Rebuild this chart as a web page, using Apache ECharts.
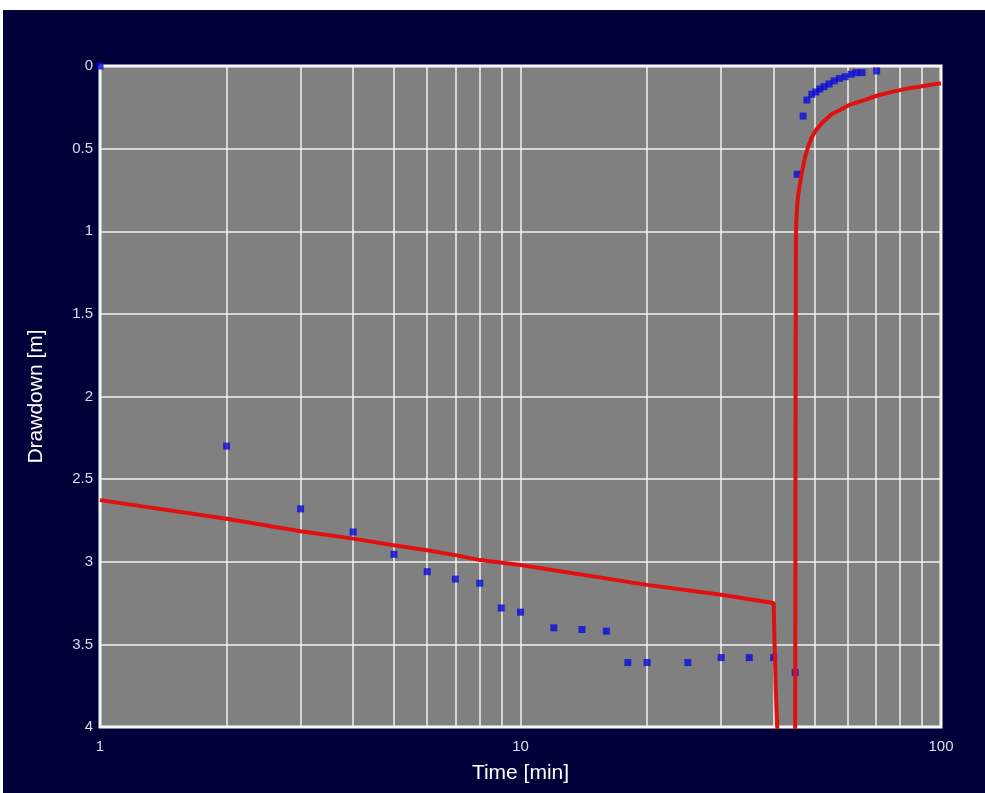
<!DOCTYPE html>
<html>
<head>
<meta charset="utf-8">
<script src="https://cdn.jsdelivr.net/npm/echarts@6/dist/echarts.min.js"></script>
<style>
html,body{margin:0;padding:0;background:#ffffff;width:985px;height:793px;overflow:hidden;}
#chart{position:absolute;left:3px;top:10px;width:982px;height:783px;}
</style>
</head>
<body>
<div id="chart"></div>
<script>
// Observed drawdown (pumping phase)
const timeObs = [1, 2, 3, 4, 5, 6, 7, 8, 9, 10, 12, 14, 16, 18, 20, 25, 30, 35, 40, 45];
const drawObs = [0, 2.30, 2.68, 2.82, 2.955, 3.06, 3.105, 3.13, 3.28, 3.305, 3.40, 3.41, 3.42, 3.61, 3.61, 3.61, 3.58, 3.58, 3.58, 3.67];
// Observed drawdown (recovery phase)
const timeRec = [45.5, 47, 48, 49.3, 50.4, 51.5, 52.7, 54.2, 55.7, 57.3, 59.2, 61.1, 62.8, 64.9, 70.3];
const drawRec = [0.655, 0.303, 0.206, 0.171, 0.157, 0.139, 0.125, 0.109, 0.09, 0.075, 0.065, 0.05, 0.04, 0.04, 0.03];
// Simulated drawdown, pumping branch
const timeSimP = [1, 2, 3, 4, 5, 6, 7, 8, 10, 20, 30, 40, 40.2, 40.5, 40.8, 41.2];
const drawSimP = [2.627, 2.74, 2.815, 2.86, 2.90, 2.93, 2.96, 2.99, 3.02, 3.14, 3.20, 3.25, 3.5, 3.8, 4.0, 4.4];
// Simulated drawdown, recovery branch
const timeSimR = [44.95, 45.0, 45.05, 45.1, 45.2, 45.3, 45.45, 45.7, 46.2, 46.8, 47.5, 48.3, 49.3, 50.7, 52.5, 55, 57.5, 61, 66, 70.3, 76, 83, 90, 100];
const drawSimR = [4.6, 4.0, 3.0, 2.0, 1.0, 0.93, 0.86, 0.79, 0.71, 0.63, 0.55, 0.49, 0.43, 0.38, 0.337, 0.29, 0.266, 0.232, 0.205, 0.18, 0.158, 0.137, 0.122, 0.105];
// Axis settings
const xMin = 1, xMax = 100;
const yMin = 0, yMax = 4, yStep = 0.5;
const minorGridX = [2, 3, 4, 5, 6, 7, 8, 9, 20, 30, 40, 50, 60, 70, 80, 90];

const zip = (a, b) => a.map((v, i) => [v, b[i]]);
const textColor = '#dcdcec';
const font = 'Liberation Sans, Arial, sans-serif';
const chart = echarts.init(document.getElementById('chart'), null, {renderer: 'canvas'});
chart.setOption({
  backgroundColor: '#01013a',
  animation: false,
  grid: {
    left: 97, top: 56, right: 44, bottom: 66,
    show: true, backgroundColor: '#808080', borderColor: '#ffffff', borderWidth: 3
  },
  xAxis: {
    type: 'log', logBase: 10, min: xMin, max: xMax,
    name: 'Time [min]', nameLocation: 'middle', nameGap: 36,
    nameTextStyle: {color: '#ffffff', fontSize: 21, fontFamily: font},
    axisLine: {show: false}, axisTick: {show: false},
    axisLabel: {color: textColor, fontSize: 15, margin: 12, fontFamily: font},
    splitLine: {show: true, lineStyle: {color: '#f2f2f2', width: 1.5}}
  },
  yAxis: {
    type: 'value', inverse: true, min: yMin, max: yMax, interval: yStep,
    name: 'Drawdown [m]', nameLocation: 'middle', nameGap: 53,
    nameTextStyle: {color: '#ffffff', fontSize: 21, fontFamily: font},
    axisLine: {show: false}, axisTick: {show: false},
    axisLabel: {color: textColor, fontSize: 15, margin: 7, fontFamily: font},
    splitLine: {show: true, lineStyle: {color: '#f2f2f2', width: 1.5}}
  },
  series: [
    {
      type: 'line', data: [], silent: true, z: 1,
      markLine: {
        silent: true, symbol: 'none', label: {show: false}, z: 1,
        lineStyle: {color: '#f2f2f2', width: 1.5, type: 'solid'},
        data: minorGridX.map(v => ({xAxis: v}))
      }
    },
    {
      type: 'scatter', data: zip(timeObs, drawObs), symbol: 'rect', symbolSize: 7,
      itemStyle: {color: '#0a0adc'}, clip: false, z: 10
    },
    {
      type: 'scatter', data: zip(timeRec, drawRec), symbol: 'rect', symbolSize: 7,
      itemStyle: {color: '#0a0adc'}, clip: false, z: 10
    },
    {
      type: 'line', data: zip(timeSimP, drawSimP), showSymbol: false, clip: true,
      lineStyle: {color: '#e01010', width: 4}, z: 11
    },
    {
      type: 'line', data: zip(timeSimR, drawSimR), showSymbol: false, clip: true,
      lineStyle: {color: '#e01010', width: 4, join: 'round'}, z: 11
    }
  ]
});
</script>
</body>
</html>
